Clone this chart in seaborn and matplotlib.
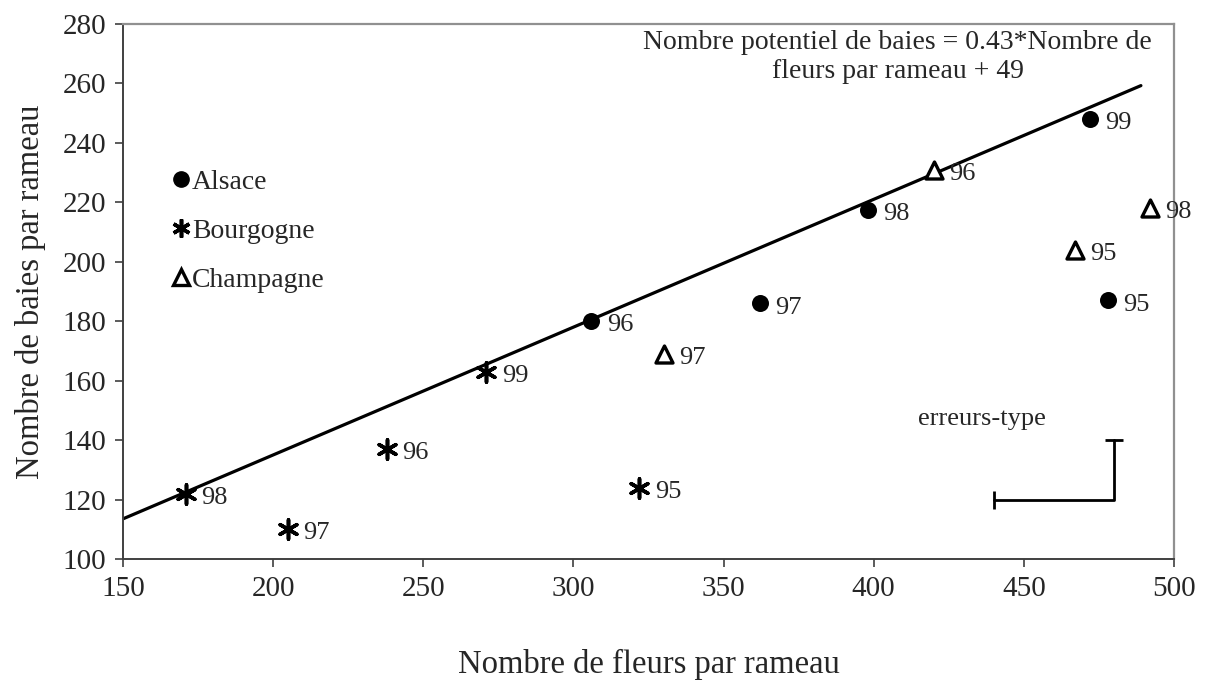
import pandas as pd
import seaborn as sns
import matplotlib.pyplot as plt
from matplotlib.lines import Line2D

# Data (flowers per branch vs berries per branch, by year)
alsace_x = [478, 306, 362, 398, 472]
alsace_y = [187, 180, 186, 217.5, 248]
alsace_yr = ["95", "96", "97", "98", "99"]

bourgogne_x = [322, 238, 205, 171, 271]
bourgogne_y = [124, 137, 110, 122, 163]
bourgogne_yr = ["95", "96", "97", "98", "99"]

champagne_x = [467, 420, 330, 492]
champagne_y = [204, 231, 169, 218]
champagne_yr = ["95", "96", "97", "98"]

slope, intercept = 0.43, 49
line_x = [150, 489]

sns.set_style("white")
plt.rcParams["font.family"] = ["Liberation Serif", "DejaVu Serif"]

df = pd.concat([
    pd.DataFrame({"x": alsace_x, "y": alsace_y, "an": alsace_yr, "region": "Alsace"}),
    pd.DataFrame({"x": bourgogne_x, "y": bourgogne_y, "an": bourgogne_yr, "region": "Bourgogne"}),
    pd.DataFrame({"x": champagne_x, "y": champagne_y, "an": champagne_yr, "region": "Champagne"}),
])

fig = plt.figure(figsize=(12.11, 6.8), dpi=100)
ax = fig.add_axes([0.1016, 0.178, 0.8678, 0.7867])

# regression line
reg = pd.DataFrame({"x": line_x, "y": [slope * v + intercept for v in line_x]})
sns.lineplot(data=reg, x="x", y="y", color="black", linewidth=2.3, ax=ax)

star = (6, 2, 0)
styles = {
    "Alsace": dict(marker="o", s=150, facecolor="black", edgecolor="black", linewidth=0),
    "Bourgogne": dict(marker=star, s=190, facecolor="black", edgecolor="black", linewidth=2.6),
    "Champagne": dict(marker="^", s=150, facecolor="white", edgecolor="black", linewidth=2.4),
}
for reg_name, st in styles.items():
    sub = df[df.region == reg_name]
    sns.scatterplot(data=sub, x="x", y="y", ax=ax, zorder=3, **st)
    for _, r in sub.iterrows():
        ax.annotate(r["an"], (r["x"], r["y"]), xytext=(11, -3), textcoords="offset points",
                    ha="left", va="center", fontsize=19)

# standard-error indicator
ax.plot([440, 480, 480], [120, 120, 140], color="black", linewidth=2)
ax.plot([440], [120], marker="|", markersize=13, markeredgewidth=2, color="black")
ax.plot([480], [140], marker="_", markersize=13, markeredgewidth=2, color="black")
ax.text(436, 147, "erreurs-type", ha="center", va="center", fontsize=19)

ax.text(408, 278, "Nombre potentiel de baies = 0.43*Nombre de\nfleurs par rameau + 49",
        ha="center", va="top", fontsize=20, linespacing=1.2)

handles = [
    Line2D([], [], marker="o", color="black", linestyle="", markersize=11),
    Line2D([], [], marker=star, color="black", linestyle="", markersize=13, markeredgewidth=2.6),
    Line2D([], [], marker="^", markerfacecolor="white", markeredgecolor="black",
           markeredgewidth=2.4, linestyle="", markersize=11),
]
ax.legend(handles, ["Alsace", "Bourgogne", "Champagne"], loc="upper left",
          bbox_to_anchor=(0.022, 0.775), frameon=False, fontsize=20,
          handlelength=0.7, handletextpad=0.05, labelspacing=0.85)

ax.set_xlim(150, 500)
ax.set_ylim(100, 280)
ax.set_xticks(range(150, 501, 50))
ax.set_yticks(range(100, 281, 20))
ax.tick_params(axis="both", labelsize=21, length=6, width=1.2, direction="out",
               bottom=True, left=True, color="#404040", pad=6)
ax.set_xlabel("Nombre de fleurs par rameau", fontsize=23.5, labelpad=34)
ax.set_ylabel("Nombre de baies par rameau", fontsize=23.5, labelpad=12)

for side in ["left", "bottom"]:
    ax.spines[side].set_color("#404040")
    ax.spines[side].set_linewidth(1.4)
for side in ["top", "right"]:
    ax.spines[side].set_color("#909090")
    ax.spines[side].set_linewidth(1.6)

fig.savefig("out.png", dpi=100)
